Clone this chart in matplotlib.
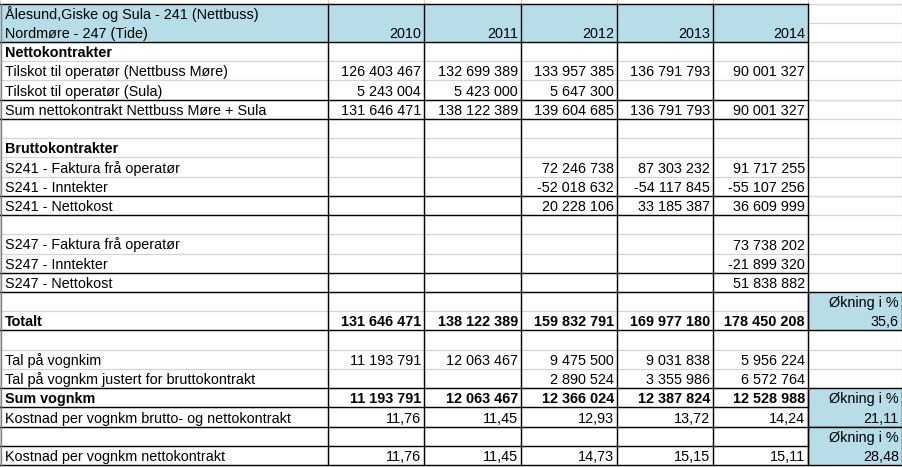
import matplotlib
matplotlib.use('Agg')
import matplotlib.pyplot as plt
from matplotlib.patches import Rectangle
import numpy as np

plt.rcParams['font.family'] = ['Liberation Sans', 'DejaVu Sans']

# Table content
header_lines = ['Ålesund,Giske og Sula - 241 (Nettbuss)', 'Nordmøre - 247 (Tide)']
years = ['2010', '2011', '2012', '2013', '2014']

row_labels = ['Nettokontrakter',
              'Tilskot til operatør (Nettbuss Møre)',
              'Tilskot til operatør (Sula)',
              'Sum nettokontrakt Nettbuss Møre + Sula',
              '',
              'Bruttokontrakter',
              'S241 - Faktura frå operatør',
              'S241 - Inntekter',
              'S241 - Nettokost',
              '',
              'S247 - Faktura frå operatør',
              'S247 - Inntekter',
              'S247 - Nettokost',
              '',
              'Totalt',
              '',
              'Tal på vognkim',
              'Tal på vognkm justert for bruttokontrakt',
              'Sum vognkm',
              'Kostnad per vognkm brutto- og nettokontrakt',
              '',
              'Kostnad per vognkm nettokontrakt']
bold_rows = ['Nettokontrakter', 'Bruttokontrakter', 'Totalt', 'Sum vognkm']

netto_moere = [126403467, 132699389, 133957385, 136791793, 90001327]
netto_sula = [5243004, 5423000, 5647300, None, None]
netto_sum = [131646471, 138122389, 139604685, 136791793, 90001327]
s241_faktura = [None, None, 72246738, 87303232, 91717255]
s241_inntekter = [None, None, -52018632, -54117845, -55107256]
s241_nettokost = [None, None, 20228106, 33185387, 36609999]
s247_faktura = [None, None, None, None, 73738202]
s247_inntekter = [None, None, None, None, -21899320]
s247_nettokost = [None, None, None, None, 51838882]
totalt = [131646471, 138122389, 159832791, 169977180, 178450208]
vognkm = [11193791, 12063467, 9475500, 9031838, 5956224]
vognkm_justert = [None, None, 2890524, 3355986, 6572764]
sum_vognkm = [11193791, 12063467, 12366024, 12387824, 12528988]
kost_brutto_netto = [11.76, 11.45, 12.93, 13.72, 14.24]
kost_netto = [11.76, 11.45, 14.73, 15.15, 15.11]

okning_label = 'Økning i %'
okning_pct = [35.6, 21.11, 28.48]
okning_rows = [14, 19, 21]   # row index holding the percentage value

empty = [None] * 5
row_values = [empty, netto_moere, netto_sula, netto_sum, empty,
              empty, s241_faktura, s241_inntekter, s241_nettokost, empty,
              s247_faktura, s247_inntekter, s247_nettokost, empty,
              totalt, empty, vognkm, vognkm_justert, sum_vognkm,
              kost_brutto_netto, empty, kost_netto]


def fmt(v):
    if v is None:
        return ''
    if isinstance(v, float):
        return str(v).replace('.', ',')
    return f'{v:,}'.replace(',', ' ')


# Layout (pixels)
W, H = 903, 467
col_x = [0, 328, 424, 521, 617, 713, 808, 902]
top, head_bot, bottom = 4, 42, 465
edges = np.linspace(head_bot, bottom, len(row_labels) + 1)
blue = '#b7dee8'
grid = '#d4d4d4'
fs = 10.4

fig = plt.figure(figsize=(W / 100, H / 100), dpi=100)
ax = fig.add_axes([0, 0, 1, 1])
ax.set_xlim(0, W)
ax.set_ylim(H, 0)
ax.axis('off')

# Excel gridlines
for y in list(edges) + [top, (top + head_bot) / 2]:
    ax.plot([0, W], [y, y], color=grid, lw=0.9, zorder=1)
for x in col_x:
    ax.plot([x, x], [0, H], color=grid, lw=0.9, zorder=1)

# Header fill
ax.add_patch(Rectangle((0, top), col_x[6], head_bot - top, facecolor=blue,
                       edgecolor='none', zorder=2))

# Økning boxes
for r in okning_rows:
    ax.add_patch(Rectangle((col_x[6], edges[r - 1]), col_x[7] - col_x[6],
                           edges[r + 1] - edges[r - 1], facecolor=blue,
                           edgecolor='black', lw=1.0, zorder=3))

# Black borders
black_h = [top, head_bot] + [edges[i] for i in (3, 4, 8, 9, 12, 13, 15, 18, 19, 20, 21, 22)]
for y in black_h:
    ax.plot([0, col_x[6]], [y, y], color='black', lw=1.0, zorder=4)
for x in col_x[1:7]:
    ax.plot([x, x], [top, bottom], color='black', lw=1.0, zorder=4)
ax.plot([1, 1], [top, bottom], color='#808080', lw=1.0, zorder=4)

# Header text
ax.text(5, 19, header_lines[0], fontsize=fs, va='baseline', zorder=5)
ax.text(5, head_bot - 4, header_lines[1], fontsize=fs, va='baseline', zorder=5)
for j, yr in enumerate(years):
    ax.text(col_x[j + 2] - 3, head_bot - 4, yr, fontsize=fs, ha='right',
            va='baseline', zorder=5)

# Body text
for i, (lab, vals) in enumerate(zip(row_labels, row_values)):
    yb = edges[i + 1] - 4
    weight = 'bold' if lab in bold_rows else 'normal'
    ax.text(5, yb, lab, fontsize=fs, va='baseline', fontweight=weight, zorder=5)
    for j, v in enumerate(vals):
        ax.text(col_x[j + 2] - 3, yb, fmt(v), fontsize=fs, ha='right',
                va='baseline', fontweight=weight, zorder=5)

for r, pct in zip(okning_rows, okning_pct):
    ax.text(col_x[7] - 3, edges[r] - 4, okning_label, fontsize=fs, ha='right',
            va='baseline', zorder=5)
    ax.text(col_x[7] - 3, edges[r + 1] - 4, fmt(pct), fontsize=fs, ha='right',
            va='baseline', zorder=5)

plt.savefig('out.png', dpi=100)
